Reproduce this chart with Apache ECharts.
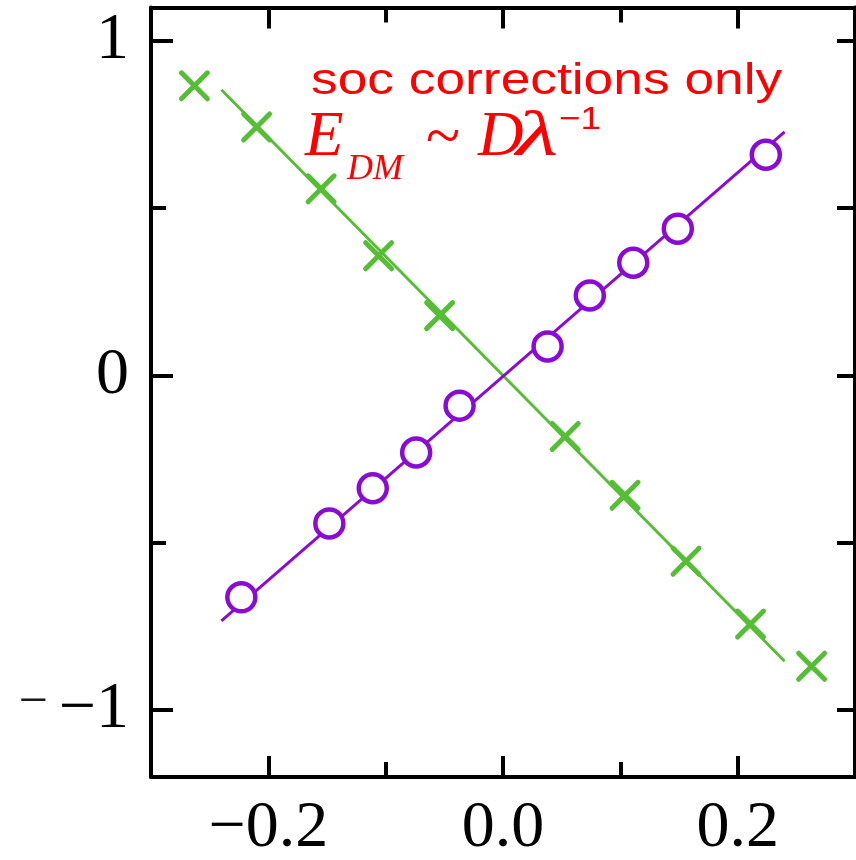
<!DOCTYPE html>
<html>
<head>
<meta charset="utf-8">
<script src="https://cdn.jsdelivr.net/npm/echarts@6/dist/echarts.min.js"></script>
<style>
  html, body { margin: 0; padding: 0; background: #fff; }
  #chart { width: 856px; height: 860px; }
</style>
</head>
<body>
<div id="chart"></div>
<script>
// Green crosses: computed points
const crossX = [-0.263, -0.210, -0.155, -0.106, -0.054, 0.053, 0.104, 0.156, 0.211, 0.263];
const crossY = [0.866, 0.743, 0.558, 0.358, 0.179, -0.182, -0.358, -0.555, -0.743, -0.869];

// Purple open circles: computed points
const circleX = [-0.223, -0.148, -0.111, -0.074, -0.037, 0.038, 0.074, 0.111, 0.149, 0.224];
const circleY = [-0.663, -0.442, -0.337, -0.230, -0.090, 0.087, 0.239, 0.337, 0.439, 0.660];

// Straight guide lines through the two sets
const fitX = [-0.24, 0.24];
const greenFitY = [0.854, -0.854];
const purpleFitY = [-0.733, 0.728];

// Axis ticks and labels
const xMajorTicks = [-0.2, 0.0, 0.2];
const xMinorTicks = [-0.1, 0.1];
const yMajorTicks = [-1, 0, 1];
const yMinorTicks = [-0.5, 0.5];
const yRightTicks = [-1, -0.5, 0, 0.5, 1];

const GREEN = '#55be35';
const PURPLE = '#8a0cd4';
const RED = '#ff0000';
const AXIS = '#000000';

const zip = (xs, ys) => xs.map((x, i) => [x, ys[i]]);
const fmtX = v => (v < 0 ? '\u2212' : '') + Math.abs(v).toFixed(1);
const fmtY = v => v === 0 ? '0' : (v > 0 ? String(v) : '{s|\u2212}\u2212' + Math.abs(v));

const labelFont = {
  fontFamily: 'Liberation Serif',
  fontSize: 66,
  color: '#000'
};

function xAxisDef(position, ticks, len, showLine, showLabels) {
  return {
    type: 'value', position, min: -0.3, max: 0.3,
    axisLine: { show: showLine, onZero: false, lineStyle: { color: AXIS, width: 4 } },
    axisTick: { show: true, inside: true, length: len, customValues: ticks,
                lineStyle: { color: AXIS, width: 4 } },
    axisLabel: showLabels
      ? Object.assign({ show: true, margin: 19, customValues: ticks, formatter: fmtX }, labelFont)
      : { show: false },
    splitLine: { show: false }
  };
}

function yAxisDef(position, ticks, len, showLine, showLabels) {
  return {
    type: 'value', position, min: -1.2, max: 1.1,
    axisLine: { show: showLine, onZero: false, lineStyle: { color: AXIS, width: 4 } },
    axisTick: { show: true, inside: true, length: len, customValues: ticks,
                lineStyle: { color: AXIS, width: 4 } },
    axisLabel: showLabels
      ? Object.assign({
          show: true, margin: 22, customValues: ticks, formatter: fmtY,
          rich: { s: { fontFamily: 'Liberation Serif', fontSize: 52, color: '#1a1a1a',
                       padding: [0, 11, 14, 0] } }
        }, labelFont)
      : { show: false },
    splitLine: { show: false }
  };
}

const chart = echarts.init(document.getElementById('chart'), null, { renderer: 'canvas' });

chart.setOption({
  animation: false,
  backgroundColor: '#fff',
  grid: { left: 151, right: 1, top: 7.5, bottom: 83, containLabel: false, outerBoundsMode: 'none' },
  xAxis: [
    xAxisDef('bottom', xMajorTicks, 21, true, true),
    xAxisDef('bottom', xMinorTicks, 15, false, false),
    xAxisDef('top', xMajorTicks, 21, true, false),
    xAxisDef('top', xMinorTicks, 15, false, false)
  ],
  yAxis: [
    yAxisDef('left', yMajorTicks, 22, true, true),
    yAxisDef('left', yMinorTicks, 15, false, false),
    yAxisDef('right', yRightTicks, 18, true, false)
  ],
  series: [
    {
      type: 'line', xAxisIndex: 0, yAxisIndex: 0,
      data: zip(fitX, greenFitY), symbol: 'none', silent: true,
      lineStyle: { color: GREEN, width: 3 }, z: 2
    },
    {
      type: 'line', xAxisIndex: 0, yAxisIndex: 0,
      data: zip(fitX, purpleFitY), symbol: 'none', silent: true,
      lineStyle: { color: PURPLE, width: 3 }, z: 2
    },
    {
      type: 'scatter', xAxisIndex: 0, yAxisIndex: 0,
      data: zip(crossX, crossY),
      symbol: 'path://M0,0L10,10M10,0L0,10', symbolSize: 26, silent: true,
      itemStyle: { color: 'rgba(0,0,0,0)', borderColor: GREEN, borderWidth: 5, borderCap: 'round', opacity: 1 },
      z: 3
    },
    {
      type: 'scatter', xAxisIndex: 0, yAxisIndex: 0,
      data: zip(circleX, circleY),
      symbol: 'circle', symbolSize: 28, silent: true,
      itemStyle: { color: '#ffffff', borderColor: PURPLE, borderWidth: 4.5, opacity: 1 },
      z: 4
    }
  ],
  graphic: [
    { type: 'text', x: 311, y: 81.4, scaleX: 1.185, z: 10,
      style: { text: 'soc corrections only', fontFamily: 'Liberation Sans', fontSize: 45,
               fill: RED, align: 'left', verticalAlign: 'middle' } },
    { type: 'text', x: 305, y: 138.7, z: 10,
      style: { text: 'E', fontFamily: 'Liberation Serif', fontStyle: 'italic', fontSize: 63,
               fill: RED, align: 'left', verticalAlign: 'middle' } },
    { type: 'text', x: 347, y: 169.8, z: 10,
      style: { text: 'DM', fontFamily: 'Liberation Serif', fontStyle: 'italic', fontSize: 36,
               fill: RED, align: 'left', verticalAlign: 'middle' } },
    { type: 'text', x: 426, y: 140.7, z: 10,
      style: { text: '~', fontFamily: 'Liberation Serif', fontSize: 63,
               fill: RED, align: 'left', verticalAlign: 'middle' } },
    { type: 'text', x: 478, y: 138.7, z: 10,
      style: { text: 'D', fontFamily: 'Liberation Serif', fontStyle: 'italic', fontSize: 63,
               fill: RED, align: 'left', verticalAlign: 'middle' } },
    { type: 'text', x: 516, y: 138.7, scaleX: 1.55, z: 10,
      style: { text: '\u03bb', fontFamily: 'Liberation Serif', fontStyle: 'italic', fontSize: 63,
               fill: RED, align: 'left', verticalAlign: 'middle' } },
    { type: 'text', x: 559, y: 120.5, scaleX: 1.15, z: 10,
      style: { text: '\u22121', fontFamily: 'Liberation Sans', fontSize: 32,
               fill: RED, align: 'left', verticalAlign: 'middle' } }
  ]
});
</script>
</body>
</html>
